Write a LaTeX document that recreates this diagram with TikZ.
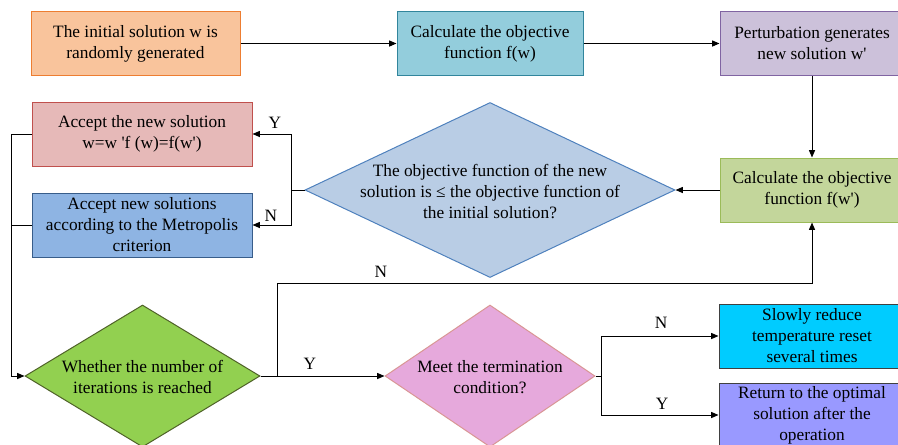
\documentclass[tikz,border=0pt]{standalone}
\usepackage{fontspec}
\setmainfont{Liberation Serif}
\usetikzlibrary{arrows.meta,shapes.geometric}
\definecolor{initfill}{HTML}{F9C49C}
\definecolor{initline}{HTML}{ED7D31}
\definecolor{fwfill}{HTML}{93CDDC}
\definecolor{fwline}{HTML}{31859C}
\definecolor{pertfill}{HTML}{CCC1DA}
\definecolor{pertline}{HTML}{8064A2}
\definecolor{fwpfill}{HTML}{C3D69B}
\definecolor{fwpline}{HTML}{9BBB59}
\definecolor{cmpfill}{HTML}{B9CDE5}
\definecolor{cmpline}{HTML}{4F81BD}
\definecolor{accfill}{HTML}{E6B9B8}
\definecolor{accline}{HTML}{C0504D}
\definecolor{metfill}{HTML}{8EB4E3}
\definecolor{metline}{HTML}{385D8A}
\definecolor{iterfill}{HTML}{92D050}
\definecolor{iterline}{HTML}{4F6228}
\definecolor{stopfill}{HTML}{E6A9DC}
\definecolor{stopline}{HTML}{D99694}
\definecolor{heatfill}{HTML}{00CCFF}
\definecolor{bestfill}{HTML}{9999FF}
\definecolor{darkline}{HTML}{404040}
\newcommand{\boxfont}{\fontsize{13pt}{15.75pt}\selectfont}
\newcommand{\sq}{\textquotesingle}
\tikzset{
  stepbox/.style={draw,line width=0.75pt,align=center,font=\boxfont,
                  minimum height=48pt,inner sep=2pt},
  decision/.style={diamond,draw,line width=0.75pt,inner sep=0pt},
  dtext/.style={align=center,font=\boxfont,inner sep=0pt},
  flow/.style={-{Triangle[length=5.5pt,width=4.5pt]},line width=0.75pt},
  joint/.style={line width=0.75pt},
  tag/.style={font=\boxfont,inner sep=1pt}
}

\begin{document}
\begin{tikzpicture}[x=0.75pt,y=-0.75pt]
  \useasboundingbox (0,0) rectangle (898,444);
  % top row
  \node[stepbox,fill=initfill,draw=initline,minimum width=156.75pt] (init) at (135.5,43.5)
    {The initial solution w is\\randomly generated};
  \node[stepbox,fill=fwfill,draw=fwline,minimum width=139.5pt] (fw) at (490,43.5)
    {Calculate the objective\\function f(w)};
  \node[stepbox,fill=pertfill,draw=pertline,minimum width=138pt] (perturb) at (812,43.5)
    {Perturbation generates\\new solution w\sq};
  \node[stepbox,fill=fwpfill,draw=fwpline,minimum width=138pt] (fwp) at (812,190)
    {Calculate the objective\\function f(w\sq)};

  % comparison
  \node[decision,fill=cmpfill,draw=cmpline,minimum width=277.5pt,minimum height=131.25pt] (cmp) at (490,190) {};
  \node[dtext] (cmptext) at (490,191.5)
    {The objective function of the new\\solution is ≤ the objective function of\\the initial solution?};
  \node[stepbox,fill=accfill,draw=accline,minimum width=165pt] (accept) at (142,134)
    {Accept the new solution\\w=w \sq f (w)=f(w\sq)};
  \node[stepbox,fill=metfill,draw=metline,minimum width=165pt] (metro) at (142,225)
    {Accept new solutions\\according to the Metropolis\\criterion};

  % bottom row
  \node[decision,fill=iterfill,draw=iterline,minimum width=176.25pt,minimum height=106.5pt] (iter) at (142.5,376) {};
  \node[dtext] (itertext) at (142.5,377) {Whether the number of\\iterations is reached};
  \node[decision,fill=stopfill,draw=stopline,minimum width=157.5pt,minimum height=106.5pt] (stop) at (490,376) {};
  \node[dtext] (stoptext) at (490,377) {Meet the termination\\condition?};
  \node[stepbox,fill=heatfill,draw=darkline,minimum width=139.5pt] (reheat) at (812,336)
    {Slowly reduce\\temperature reset\\several times};
  \node[stepbox,fill=bestfill,draw=darkline,minimum width=139.5pt] (best) at (812,415)
    {Return to the optimal\\solution after the\\operation};

  \coordinate (back) at (812,283);
  \coordinate (split) at (601,376);

  \draw[flow] (init) -- (fw);
  \draw[flow] (fw) -- (perturb);
  \draw[flow] (perturb) -- (fwp);
  \draw[flow] (fwp.west) -- (cmp.east);
  \draw[flow] (cmp.west) -- ++(-13,0) |- (accept.east);
  \draw[flow] (cmp.west) -- ++(-13,0) |- (metro.east);
  \draw[flow] (accept.west) -- ++(-20,0) |- (iter.west);
  \draw[joint] (metro.west) -- ++(-20,0);
  \draw[flow] (iter.east) -- ++(17,0) |- (back) -- (fwp.south);
  \draw[flow] (iter.east) -- (stop.west);
  \draw[joint] (stop.east) -- (split);
  \draw[flow] (split) |- (reheat.west);
  \draw[flow] (split) |- (best.west);

  % branch labels
  \node[tag] (yacc) at (275,123) {Y};
  \node[tag] (nmet) at (271,216) {N};
  \node[tag] (nback) at (381,272) {N};
  \node[tag] (ystop) at (310,364) {Y};
  \node[tag] (nheat) at (661,323) {N};
  \node[tag] (ybest) at (662,404) {Y};
\end{tikzpicture}
\end{document}
